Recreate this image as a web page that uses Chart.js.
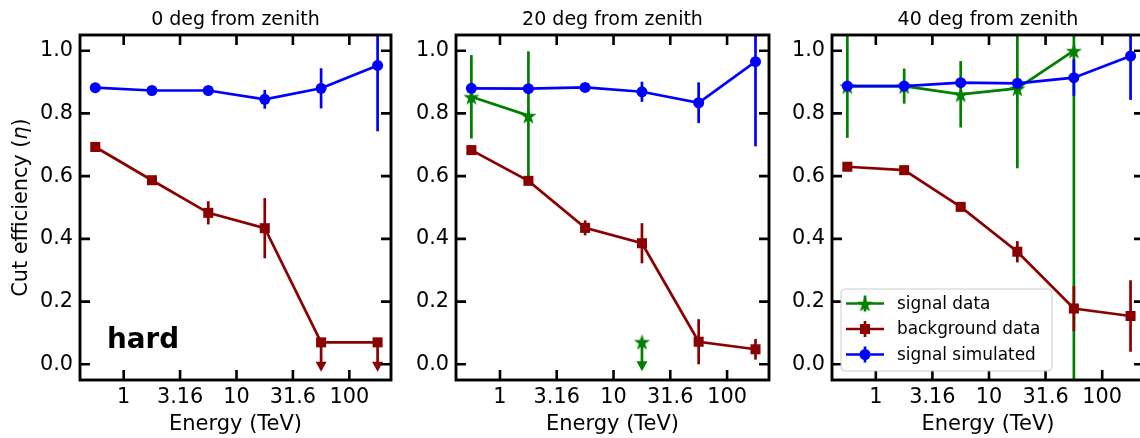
<!DOCTYPE html>
<html>
<head>
<meta charset="utf-8">
<script src="https://cdn.jsdelivr.net/npm/chart.js@4.4.1/dist/chart.umd.min.js"></script>
<style>
  html, body { margin: 0; padding: 0; background: #fff; width: 1140px; height: 438px; overflow: hidden; position: relative; }
  canvas { position: absolute; top: 0; }
</style>
</head>
<body>
<canvas id="c0" width="400" height="438" style="left:0px"></canvas>
<canvas id="c20" width="380" height="438" style="left:400px"></canvas>
<canvas id="c40" width="380" height="438" style="left:780px"></canvas>
<script>
// energy bin centres (TeV), half a decade apart
var energy = [0.56, 1.78, 5.62, 17.8, 56.2, 178];
var xTickVals = [1, 3.16, 10, 31.6, 100];
var xTickLabels = ["1", "3.16", "10", "31.6", "100"];
var yTickVals = [0, 0.2, 0.4, 0.6, 0.8, 1.0];
var xMin = 0.41, xMax = 234;
var yMin = -0.05, yMax = 1.05;

// 0 deg from zenith
var sim0 = [0.882, 0.873, 0.873, 0.845, 0.880, 0.953];
var simErr0 = [0.01, 0.01, 0.01, 0.03, 0.064, 0.21];
var bg0 = [0.693, 0.587, 0.483, 0.434, 0.070, 0.070];
var bgErr0 = [0.01, 0.01, 0.037, 0.096, 0, 0];
var bgUplim0 = [0, 0, 0, 0, 1, 1];
var sig0 = [null, null, null, null, null, null];
var sigErr0 = [0, 0, 0, 0, 0, 0];
var sigUplim0 = [0, 0, 0, 0, 0, 0];

// 20 deg from zenith
var sim20 = [0.880, 0.879, 0.883, 0.869, 0.834, 0.965];
var simErr20 = [0.01, 0.01, 0.01, 0.032, 0.065, 0.27];
var bg20 = [0.683, 0.585, 0.435, 0.386, 0.072, 0.048];
var bgErr20 = [0.01, 0.01, 0.024, 0.064, 0.072, 0.033];
var bgUplim20 = [0, 0, 0, 0, 0, 0];
var sig20 = [0.853, 0.793, null, 0.072, null, null];
var sigErr20 = [0.133, 0.205, 0, 0, 0, 0];
var sigUplim20 = [0, 0, 0, 1, 0, 0];

// 40 deg from zenith
var sim40 = [0.887, 0.887, 0.898, 0.896, 0.914, 0.983];
var simErr40 = [0.01, 0.01, 0.01, 0.01, 0.058, 0.14];
var bg40 = [0.630, 0.619, 0.502, 0.359, 0.178, 0.154];
var bgErr40 = [0.01, 0.01, 0.01, 0.034, 0.072, 0.114];
var bgUplim40 = [0, 0, 0, 0, 0, 0];
var sig40 = [0.887, 0.887, 0.861, 0.880, 1.0, null];
var sigErr40 = [0.165, 0.056, 0.106, 0.255, 1.2, 0];
var sigUplim40 = [0, 0, 0, 0, 0, 0];

var FONT = "DejaVu Sans";
var colSim = "#0000ff";
var colBg = "#8b0000";
var colSig = "#008000";
var LW = 2.7;

// filled 5 point star like matplotlib's "*"
function makeStar(color, r) {
  var c = document.createElement("canvas");
  var s = Math.ceil(r * 2 + 2);
  c.width = s;
  c.height = s;
  var g = c.getContext("2d");
  g.fillStyle = color;
  g.beginPath();
  for (var k = 0; k < 10; k++) {
    var rad = k % 2 === 0 ? r : r * 0.4;
    var ang = -Math.PI / 2 + (k * Math.PI) / 5;
    var px = s / 2 + rad * Math.cos(ang);
    var py = s / 2 + 1 + rad * Math.sin(ang);
    if (k === 0) g.moveTo(px, py);
    else g.lineTo(px, py);
  }
  g.closePath();
  g.fill();
  return c;
}
var starImg = makeStar(colSig, 8.5);

function pts(vals) {
  return vals.map(function (v, i) {
    return { x: energy[i], y: v };
  });
}

function drawMarker(ctx, style, x, y, color) {
  ctx.fillStyle = color;
  if (style === "circle") {
    ctx.beginPath();
    ctx.arc(x, y, 5.5, 0, Math.PI * 2);
    ctx.fill();
  } else if (style === "rect") {
    ctx.fillRect(x - 5, y - 5, 10, 10);
  } else {
    ctx.drawImage(style, x - style.width / 2, y - style.height / 2);
  }
}

var decorPlugin = {
  id: "decor",
  // error bars and upper-limit arrows, under each dataset's own markers
  beforeDatasetDraw: function (chart, args) {
    var ds = chart.data.datasets[args.index];
    var a = chart.chartArea;
    var ys = chart.scales.y;
    var ctx = chart.ctx;
    ctx.save();
    ctx.beginPath();
    ctx.rect(a.left, a.top, a.right - a.left, a.bottom - a.top);
    ctx.clip();
    ctx.strokeStyle = ds.borderColor;
    ctx.fillStyle = ds.borderColor;
    ctx.lineWidth = LW;
    args.meta.data.forEach(function (pt, i) {
      var v = ds.data[i].y;
      if (v === null) return;
      if (ds.uplim[i]) {
        var y0 = ys.getPixelForValue(v);
        var tip = ys.getPixelForValue(v - 0.094);
        ctx.beginPath();
        ctx.moveTo(pt.x, y0);
        ctx.lineTo(pt.x, tip - 8);
        ctx.stroke();
        ctx.beginPath();
        ctx.moveTo(pt.x - 5.5, tip - 10);
        ctx.lineTo(pt.x + 5.5, tip - 10);
        ctx.lineTo(pt.x, tip);
        ctx.closePath();
        ctx.fill();
      } else if (ds.err[i]) {
        ctx.beginPath();
        ctx.moveTo(pt.x, ys.getPixelForValue(v - ds.err[i]));
        ctx.lineTo(pt.x, ys.getPixelForValue(v + ds.err[i]));
        ctx.stroke();
      }
    });
    ctx.restore();
  },
  afterDraw: function (chart, args, opts) {
    var ctx = chart.ctx;
    var a = chart.chartArea;
    var xs = chart.scales.x;
    var ys = chart.scales.y;
    ctx.save();

    // inward ticks on all four sides, then the frame
    ctx.strokeStyle = "#000";
    ctx.lineWidth = 2.6;
    ctx.beginPath();
    xTickVals.forEach(function (v) {
      var px = xs.getPixelForValue(v);
      ctx.moveTo(px, a.bottom);
      ctx.lineTo(px, a.bottom - 10);
      ctx.moveTo(px, a.top);
      ctx.lineTo(px, a.top + 10);
    });
    yTickVals.forEach(function (v) {
      var py = ys.getPixelForValue(v);
      ctx.moveTo(a.left, py);
      ctx.lineTo(a.left + 10, py);
      ctx.moveTo(a.right, py);
      ctx.lineTo(a.right - 10, py);
    });
    ctx.stroke();
    ctx.lineWidth = 2.9;
    ctx.strokeRect(a.left, a.top, a.right - a.left, a.bottom - a.top);

    // panel title
    ctx.fillStyle = "#000";
    ctx.font = "19px '" + FONT + "'";
    ctx.textAlign = "center";
    ctx.textBaseline = "alphabetic";
    ctx.fillText(opts.title, (a.left + a.right) / 2, 25);

    if (opts.yLabel) {
      var parts = [
        ["Cut efficiency (", "20.8px '" + FONT + "'"],
        ["\u03B7", "italic 20.8px '" + FONT + "'"],
        [")", "20.8px '" + FONT + "'"],
      ];
      var total = 0;
      parts.forEach(function (p) {
        ctx.font = p[1];
        total += ctx.measureText(p[0]).width;
      });
      ctx.save();
      ctx.translate(27, (a.top + a.bottom) / 2);
      ctx.rotate(-Math.PI / 2);
      ctx.textAlign = "left";
      var cx = -total / 2;
      parts.forEach(function (p) {
        ctx.font = p[1];
        ctx.fillText(p[0], cx, 0);
        cx += ctx.measureText(p[0]).width;
      });
      ctx.restore();
    }

    if (opts.tag) {
      ctx.font = "bold 27.8px '" + FONT + "'";
      ctx.textAlign = "left";
      ctx.textBaseline = "alphabetic";
      ctx.fillText(opts.tag, a.left + 27, 348);
    }

    if (opts.legend) {
      var bx = a.left + 9;
      var bw = 211;
      var bh = 82;
      var by = a.bottom - 9 - bh;
      ctx.beginPath();
      ctx.roundRect(bx, by, bw, bh, 4);
      ctx.fillStyle = "rgba(255,255,255,0.8)";
      ctx.fill();
      ctx.strokeStyle = "#cccccc";
      ctx.lineWidth = 1;
      ctx.stroke();
      var order = [2, 1, 0];
      order.forEach(function (di, row) {
        var ds = chart.data.datasets[di];
        var ry = by + 14.5 + row * 25.5;
        ctx.strokeStyle = ds.borderColor;
        ctx.lineWidth = LW;
        ctx.beginPath();
        ctx.moveTo(bx + 5, ry);
        ctx.lineTo(bx + 43, ry);
        ctx.moveTo(bx + 24, ry - 8);
        ctx.lineTo(bx + 24, ry + 8);
        ctx.stroke();
        drawMarker(ctx, ds.pointStyle, bx + 24, ry, ds.borderColor);
        ctx.fillStyle = "#000";
        ctx.font = "16.9px '" + FONT + "'";
        ctx.textAlign = "left";
        ctx.textBaseline = "middle";
        ctx.fillText(ds.label, bx + 56, ry + 1);
      });
    }
    ctx.restore();
  },
};

function makeChart(id, cfg) {
  var base = {
    borderWidth: LW,
    pointBorderWidth: 0,
    pointHoverRadius: 5.5,
    spanGaps: false,
    fill: false,
    tension: 0,
  };
  var datasets = [
    Object.assign({}, base, {
      label: "signal simulated",
      data: pts(cfg.sim),
      err: cfg.simErr,
      uplim: [0, 0, 0, 0, 0, 0],
      borderColor: colSim,
      backgroundColor: colSim,
      pointStyle: "circle",
      pointRadius: 5.5,
    }),
    Object.assign({}, base, {
      label: "background data",
      data: pts(cfg.bg),
      err: cfg.bgErr,
      uplim: cfg.bgUplim,
      borderColor: colBg,
      backgroundColor: colBg,
      pointStyle: "rect",
      pointRadius: 7.1,
    }),
    Object.assign({}, base, {
      label: "signal data",
      data: pts(cfg.sig),
      err: cfg.sigErr,
      uplim: cfg.sigUplim,
      borderColor: colSig,
      backgroundColor: colSig,
      pointStyle: starImg,
      pointRadius: 8,
    }),
  ];

  return new Chart(document.getElementById(id), {
    type: "line",
    data: { datasets: datasets },
    plugins: [decorPlugin],
    options: {
      responsive: false,
      animation: false,
      events: [],
      layout: { padding: { top: 35, right: cfg.padRight, left: 0, bottom: 0 } },
      plugins: {
        legend: { display: false },
        tooltip: { enabled: false },
        decor: { title: cfg.title, yLabel: cfg.yLabel, tag: cfg.tag, legend: cfg.legend },
      },
      scales: {
        x: {
          type: "logarithmic",
          min: xMin,
          max: xMax,
          grid: { display: false, drawTicks: false },
          border: { display: false },
          afterBuildTicks: function (s) {
            s.ticks = xTickVals.map(function (v) {
              return { value: v };
            });
          },
          afterFit: function (s) {
            s.height = 58;
          },
          ticks: {
            autoSkip: false,
            maxRotation: 0,
            padding: 5,
            color: "#000",
            font: { family: FONT, size: 20.8 },
            callback: function (v, i) {
              return xTickLabels[i];
            },
          },
          title: {
            display: true,
            text: "Energy (TeV)",
            color: "#000",
            font: { family: FONT, size: 21 },
            padding: { top: 0, bottom: 1 },
          },
        },
        y: {
          type: "linear",
          min: yMin,
          max: yMax,
          grid: { display: false, drawTicks: false },
          border: { display: false },
          afterBuildTicks: function (s) {
            s.ticks = yTickVals.map(function (v) {
              return { value: v };
            });
          },
          afterFit: function (s) {
            s.width = cfg.yWidth;
          },
          ticks: {
            autoSkip: false,
            padding: 7,
            color: "#000",
            font: { family: FONT, size: 20.8 },
            callback: function (v) {
              return v.toFixed(1);
            },
          },
        },
      },
    },
  });
}

makeChart("c0", {
  title: "0 deg from zenith", yLabel: true, tag: "hard", legend: false,
  yWidth: 80, padRight: 9,
  sim: sim0, simErr: simErr0, bg: bg0, bgErr: bgErr0, bgUplim: bgUplim0,
  sig: sig0, sigErr: sigErr0, sigUplim: sigUplim0,
});
makeChart("c20", {
  title: "20 deg from zenith", yLabel: false, tag: null, legend: false,
  yWidth: 56, padRight: 11,
  sim: sim20, simErr: simErr20, bg: bg20, bgErr: bgErr20, bgUplim: bgUplim20,
  sig: sig20, sigErr: sigErr20, sigUplim: sigUplim20,
});
makeChart("c40", {
  title: "40 deg from zenith", yLabel: false, tag: null, legend: true,
  yWidth: 52, padRight: 16,
  sim: sim40, simErr: simErr40, bg: bg40, bgErr: bgErr40, bgUplim: bgUplim40,
  sig: sig40, sigErr: sigErr40, sigUplim: sigUplim40,
});
</script>
</body>
</html>
